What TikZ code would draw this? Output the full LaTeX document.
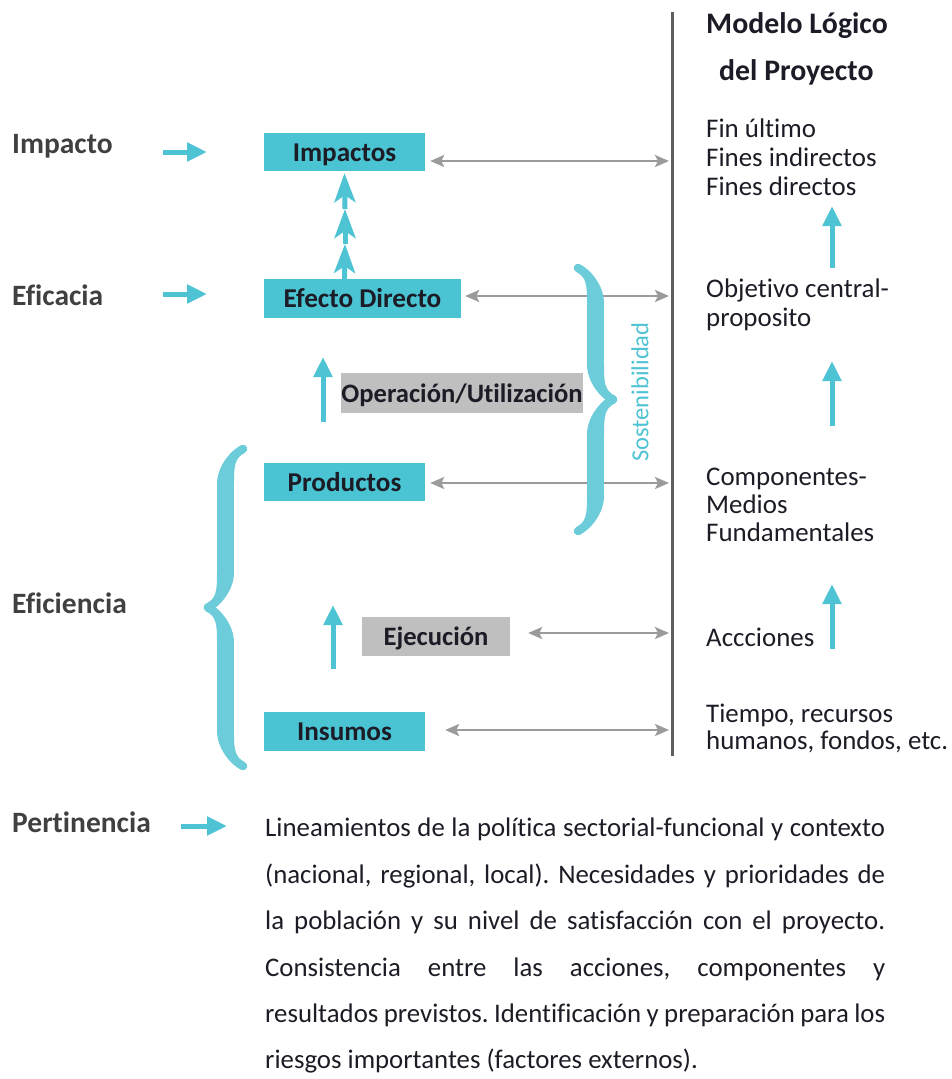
\documentclass[tikz,border=0pt]{standalone}
\usepackage{fontspec}
\setmainfont{Carlito}[Ligatures=NoCommon]
\frenchspacing
\usetikzlibrary{arrows.meta,decorations.pathreplacing,calligraphy,calc}
\definecolor{boxc}{RGB}{74,196,211}
\definecolor{arrc}{RGB}{77,195,211}
\definecolor{bracec}{RGB}{108,204,218}
\definecolor{grayb}{RGB}{191,191,191}
\definecolor{graya}{RGB}{155,155,155}
\definecolor{vline}{RGB}{95,95,95}
\definecolor{txt}{RGB}{28,28,38}
\definecolor{lbl}{RGB}{64,64,64}
\begin{document}
\begin{tikzpicture}[x=1pt,y=-1pt,
  tealbox/.style={fill=boxc, inner sep=0pt, text height=18pt, text depth=0pt, text=txt, font=\bfseries\fontsize{27.2}{30}\selectfont},
  graybox/.style={fill=grayb, inner sep=0pt, text height=18pt, text depth=0pt, text=txt, font=\bfseries\fontsize{26.6}{30}\selectfont},
  lefttext/.style={anchor=base west, text=lbl, inner sep=0pt, font=\bfseries\fontsize{29.5}{32}\selectfont},
  righttext/.style={anchor=base west, text=txt, inner sep=0pt, font=\fontsize{26.9}{29}\selectfont},
  titletext/.style={anchor=base west, text=txt, inner sep=0pt, font=\bfseries\fontsize{29.8}{32}\selectfont},
  paratext/.style={anchor=base west, text=txt, inner sep=0pt, font=\fontsize{26.8}{46}\selectfont},
  cyarrow/.style={draw=arrc, line width=5pt, -{Triangle[width=18pt,length=20pt]}},
  tripleup/.style={draw=arrc, line width=5pt, -{Stealth[width=21pt,length=29pt,inset=7pt]}},
  grayarrow/.style={draw=graya, line width=2.5pt, {Stealth[width=12pt,length=14pt,inset=3pt]}-{Stealth[width=12pt,length=14pt,inset=3pt]}},
  bracestyle/.style={line width=17pt, pen colour=bracec, decorate, decoration={calligraphic brace, amplitude=35pt}}
]
\useasboundingbox (0,0) rectangle (952,1079);

% vertical line
\coordinate (vtop) at (672,12);
\coordinate (vbot) at (672,756);
\draw[vline, line width=3pt] (vtop) -- (vbot);

% boxes
\node[tealbox, minimum width=161pt, minimum height=38pt] (imp) at (344.5,152) {Impactos};
\node[tealbox, minimum width=197pt, minimum height=39pt] (efd) at (362.5,298.5) {Efecto Directo};
\node[tealbox, minimum width=161pt, minimum height=38pt] (prod) at (344.5,482) {Productos};
\node[tealbox, minimum width=161pt, minimum height=39pt] (ins) at (344.5,731.5) {Insumos};
\node[graybox, minimum width=242pt, minimum height=40pt] (ope) at (462,393) {Operación/Utilización};
\node[graybox, minimum width=148pt, minimum height=39pt] (eje) at (436,636.5) {Ejecución};

% left labels
\node[lefttext] (limp) at (12,153) {Impacto};
\node[lefttext] (lefi) at (12,305) {Eficacia};
\node[lefttext] (lefc) at (12,613) {Eficiencia};
\node[lefttext] (lper) at (12,832) {Pertinencia};

% left cyan arrows
\coordinate (a1s) at (163,152); \coordinate (a1e) at (207,152);
\coordinate (a2s) at (163,294); \coordinate (a2e) at (207,294);
\coordinate (a3s) at (181,826); \coordinate (a3e) at (227,826);
\draw[cyarrow] (a1s) -- (a1e);
\draw[cyarrow] (a2s) -- (a2e);
\draw[cyarrow] (a3s) -- (a3e);

% triple arrows
\coordinate (t1) at (345,244);
\coordinate (t2) at (345,209);
\draw[tripleup] (efd.north -| imp.south) -- (t1);
\draw[tripleup] (t1) -- (t2);
\draw[tripleup] (t2) -- ([yshift=-2pt]imp.south);

% vertical cyan arrows
\coordinate (u1s) at (323,422); \coordinate (u1e) at (323,357);
\coordinate (u2s) at (333,669); \coordinate (u2e) at (333,605);
\draw[cyarrow] (u1s) -- (u1e);
\draw[cyarrow] (u2s) -- (u2e);

% title
\node[titletext] (tit1) at (706,33) {Modelo Lógico};
\node[titletext] (tit2) at (719,80) {del Proyecto};

% right column
\node[righttext] (r1) at (706,137) {Fin último};
\node[righttext] (r2) at (706,166) {Fines indirectos};
\node[righttext] (r3) at (706,195) {Fines directos};
\node[righttext] (r4) at (706,297) {Objetivo central-};
\node[righttext] (r5) at (706,326) {proposito};
\node[righttext] (r6) at (706,485) {Componentes-};
\node[righttext] (r7) at (706,513) {Medios};
\node[righttext] (r8) at (706,541) {Fundamentales};
\node[righttext] (r9) at (706,646) {Accciones};
\node[righttext] (r10) at (706,722) {Tiempo, recursos};
\node[righttext] (r11) at (706,749) {humanos, fondos, etc.};

% right cyan arrows
\coordinate (ra1s) at (832,268); \coordinate (ra1e) at (832,206);
\coordinate (ra2s) at (832,426); \coordinate (ra2e) at (832,361);
\coordinate (ra3s) at (832,649); \coordinate (ra3e) at (832,584);
\draw[cyarrow] (ra1s) -- (ra1e);
\draw[cyarrow] (ra2s) -- (ra2e);
\draw[cyarrow] (ra3s) -- (ra3e);

% gray double arrows to the vertical line
\coordinate (g1) at (669,161);
\coordinate (g2) at (669,296);
\coordinate (g3) at (669,483);
\coordinate (g4) at (669,633);
\coordinate (g5) at (669,730);
\draw[grayarrow] ([xshift=5pt]imp.east |- g1) -- (g1);
\draw[grayarrow] ([xshift=4pt]efd.east |- g2) -- (g2);
\draw[grayarrow] ([xshift=5pt]prod.east |- g3) -- (g3);
\draw[grayarrow] ([xshift=18pt]eje.east |- g4) -- (g4);
\draw[grayarrow] ([xshift=20pt]ins.east |- g5) -- (g5);

% braces
\coordinate (lb1) at (243,766);
\coordinate (lb2) at (243,449);
\draw[bracestyle] (lb1) -- (lb2);
\coordinate (rb1) at (578,268);
\coordinate (rb2) at (578,531);
\draw[bracestyle] (rb1) -- (rb2);
\node[rotate=90, text=arrc, inner sep=0pt, font=\fontsize{24.5}{28}\selectfont] (sost) at (640,392) {Sostenibilidad};

% paragraph
\node[paratext] (p1) at (265,836) {\makebox[620pt][s]{Lineamientos de la política sectorial-funcional y contexto}};
\node[paratext] (p2) at (265,883) {\makebox[620pt][s]{(nacional, regional, local). Necesidades y prioridades de}};
\node[paratext] (p3) at (265,929) {\makebox[620pt][s]{la población y su nivel de satisfacción con el proyecto.}};
\node[paratext] (p4) at (265,976) {\makebox[620pt][s]{Consistencia entre las acciones, componentes y}};
\node[paratext] (p5) at (265,1022) {\makebox[620pt][s]{resultados previstos. Identificación y preparación para los}};
\node[paratext] (p6) at (265,1068) {riesgos importantes (factores externos).};
\end{tikzpicture}
\end{document}
